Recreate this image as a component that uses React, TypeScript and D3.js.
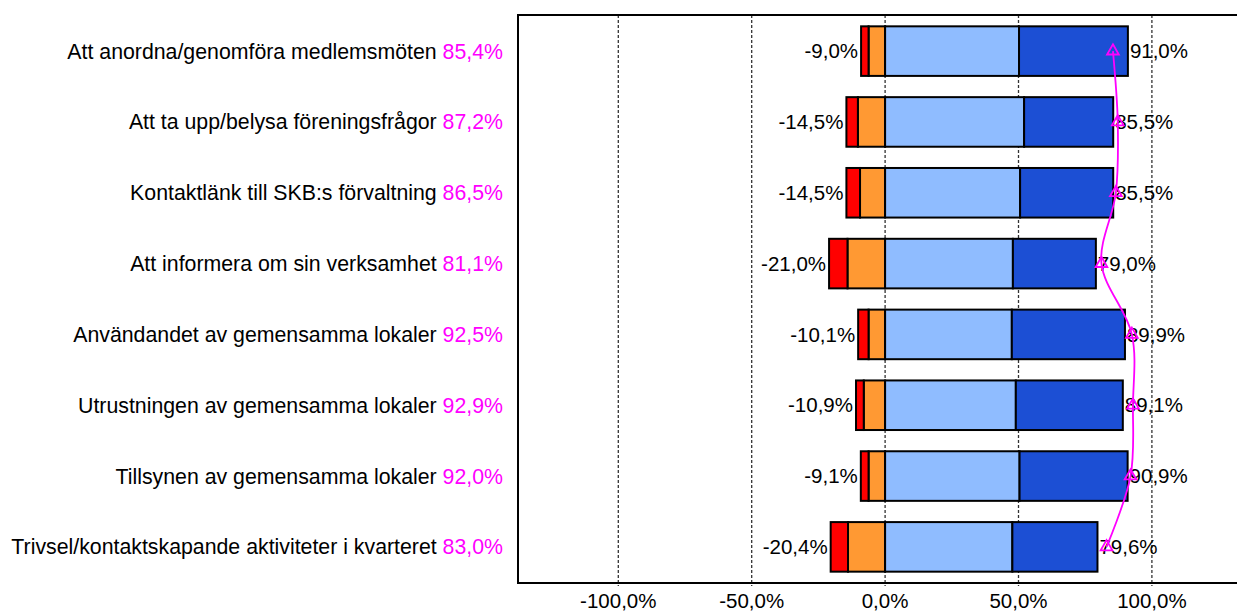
import React from 'react';
import * as d3 from 'd3';

const width = 1237;
const height = 613;
const margin = { top: 15, bottom: 583, left: 518 };

const categories = [
  'Att anordna/genomföra medlemsmöten',
  'Att ta upp/belysa föreningsfrågor',
  'Kontaktlänk till SKB:s förvaltning',
  'Att informera om sin verksamhet',
  'Användandet av gemensamma lokaler',
  'Utrustningen av gemensamma lokaler',
  'Tillsynen av gemensamma lokaler',
  'Trivsel/kontaktskapande aktiviteter i kvarteret',
];
const indexValues = [85.4, 87.2, 86.5, 81.1, 92.5, 92.9, 92.0, 83.0];
const veryDissatisfied = [2.8, 4.3, 5.1, 6.9, 3.9, 2.9, 2.9, 6.5];
const dissatisfied = [6.2, 10.2, 9.4, 14.1, 6.2, 8.0, 6.2, 13.9];
const satisfied = [50.2, 52.1, 50.6, 47.9, 47.5, 49.0, 50.4, 47.7];
const verySatisfied = [40.8, 33.4, 34.9, 31.1, 42.4, 40.1, 40.5, 31.9];
const ticks = [-100, -50, 0, 50, 100];

const colors = {
  dissatisfied: '#ff9933',
  veryDissatisfied: '#ff0000',
  satisfied: '#8fbcff',
  verySatisfied: '#1c4fd4',
};
const magenta = '#ff00ff';
const font = "'Liberation Sans', Arial, sans-serif";
const fontSize = 20.5;
const labelFontSize = 21.3;

const locale = d3.formatLocale({
  decimal: ',', thousands: ' ', grouping: [3], currency: ['', ' kr'], minus: '-',
});
const pct = (v: number) => `${locale.format('.1f')(v)}%`;

const rows = categories.map((c, i) => ({
  category: c,
  dissatisfied: -dissatisfied[i],
  veryDissatisfied: -veryDissatisfied[i],
  satisfied: satisfied[i],
  verySatisfied: verySatisfied[i],
}));

const keys = ['dissatisfied', 'veryDissatisfied', 'satisfied', 'verySatisfied'];

export default function App() {
  const xScale = d3.scaleLinear().domain([-100, 100]).range([618.3, 1151.9]);
  const yScale = d3.scaleBand()
    .domain(categories)
    .range([margin.top, margin.bottom])
    .paddingInner(0.3)
    .paddingOuter(0.16);
  const bw = yScale.bandwidth();

  const series = d3.stack().keys(keys).offset(d3.stackOffsetDiverging)(rows as any);

  const line = d3.line<number>()
    .x(v => xScale(v))
    .y((v, i) => (yScale(categories[i]) as number) + bw / 2)
    .curve(d3.curveCatmullRom.alpha(0.5));
  const tri = d3.symbol().type(d3.symbolTriangle).size(60)();

  return (
    <svg width={width} height={height} style={{ position: 'absolute', left: 0, top: 0 }} fontFamily={font}>
      <rect x={0} y={0} width={width} height={height} fill="#fff" />
      {ticks.map(t => (
        <line key={t} x1={xScale(t)} x2={xScale(t)} y1={margin.top} y2={margin.bottom + 3}
          stroke="#333" strokeWidth={1.3} strokeDasharray="3,2" />
      ))}
      <path d={`M${width + 2},${margin.top}H${margin.left}V${margin.bottom}H${width + 2}`}
        fill="none" stroke="#000" strokeWidth={2} />
      {series.map(s => (
        <g key={s.key} fill={(colors as any)[s.key]}>
          {s.map((d, i) => (
            <rect key={i}
              x={xScale(Math.min(d[0], d[1]))}
              y={yScale(categories[i])}
              width={Math.abs(xScale(d[1]) - xScale(d[0]))}
              height={bw}
              stroke="#000" strokeWidth={2} />
          ))}
        </g>
      ))}
      {categories.map((c, i) => {
        const cy = (yScale(c) as number) + bw / 2;
        const neg = veryDissatisfied[i] + dissatisfied[i];
        const pos = satisfied[i] + verySatisfied[i];
        return (
          <g key={c} fontSize={fontSize}>
            <text x={xScale(-neg) - 3} y={cy} dy="0.35em" textAnchor="end">{pct(-neg)}</text>
            <text x={xScale(pos) + 2} y={cy} dy="0.35em">{pct(pos)}</text>
            <text x={503} y={cy} dy="0.35em" textAnchor="end" fontSize={labelFontSize}>
              {c} <tspan fill={magenta}>{pct(indexValues[i])}</tspan>
            </text>
          </g>
        );
      })}
      <path d={line(indexValues) || ''} fill="none" stroke={magenta} strokeWidth={1.8} />
      {indexValues.map((v, i) => (
        <path key={i} d={tri || ''}
          transform={`translate(${xScale(v)},${(yScale(categories[i]) as number) + bw / 2})`}
          fill="none" stroke={magenta} strokeWidth={1.8} />
      ))}
      {ticks.map(t => (
        <text key={t} x={xScale(t)} y={601} dy="0.35em" textAnchor="middle" fontSize={fontSize}>{pct(t)}</text>
      ))}
    </svg>
  );
}
